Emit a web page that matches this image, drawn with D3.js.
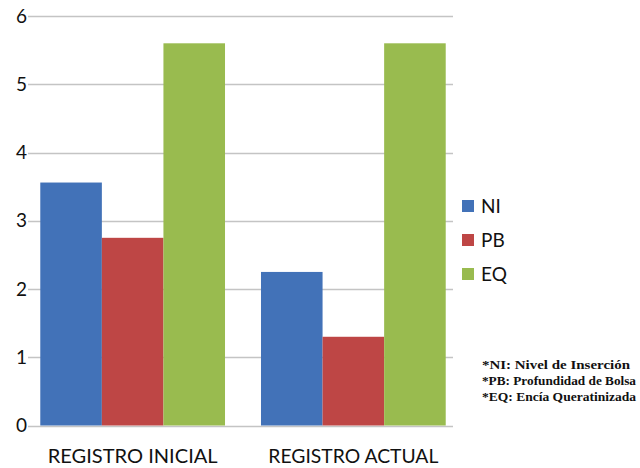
<!DOCTYPE html>
<html>
<head>
<meta charset="utf-8">
<script src="https://cdn.jsdelivr.net/npm/d3@7"></script>
<style>
  html, body { margin: 0; padding: 0; background: #fff; }
  svg { display: block; }
</style>
</head>
<body>
<svg id="chart" width="640" height="468"></svg>
<script>
// Categories and series
const categories = ["REGISTRO INICIAL", "REGISTRO ACTUAL"];
const seriesNames = ["NI", "PB", "EQ"];
const seriesColors = ["#4272B8", "#BE4645", "#99BB4F"];
const valuesNI = [3.56, 2.25];
const valuesPB = [2.75, 1.30];
const valuesEQ = [5.6, 5.6];
const yTicks = [0, 1, 2, 3, 4, 5, 6];
const footnotes = [
  "*NI: Nivel de Inserción",
  "*PB: Profundidad de Bolsa",
  "*EQ: Encía Queratinizada"
];

const seriesValues = [valuesNI, valuesPB, valuesEQ];
const rows = categories.map((c, i) => ({
  cat: c,
  vals: seriesNames.map((s, j) => ({ key: s, value: seriesValues[j][i], color: seriesColors[j] }))
}));

const svg = d3.select("#chart");
const plot = { left: 33, right: 453, top: 16, bottom: 425.5 };

const y = d3.scaleLinear().domain([0, 6]).range([plot.bottom, plot.top]);
const x0 = d3.scaleBand().domain(categories)
  .range([plot.left, plot.right])
  .paddingInner(0.163).paddingOuter(0.033);
const x1 = d3.scaleBand().domain(seriesNames).range([0, x0.bandwidth()]).padding(0);

const fontSans = "Lato, 'Open Sans', sans-serif";

// Horizontal gridlines
svg.append("g")
  .selectAll("line")
  .data(yTicks)
  .join("line")
  .attr("x1", plot.left - 5)
  .attr("x2", plot.right)
  .attr("y1", d => Math.round(y(d)) + 0.5)
  .attr("y2", d => Math.round(y(d)) + 0.5)
  .attr("stroke", "#c4c4c4")
  .attr("stroke-width", 1.5);

// Y axis tick labels
const yAxis = d3.axisLeft(y).tickValues(yTicks).tickSize(0).tickPadding(6).tickFormat(d3.format("d"));
const gy = svg.append("g").attr("transform", `translate(${plot.left},0)`).call(yAxis);
gy.select(".domain").remove();
gy.selectAll("text")
  .attr("font-family", fontSans)
  .attr("font-size", 19)
  .attr("fill", "#111");

// Bars
const groups = svg.append("g")
  .selectAll("g")
  .data(rows)
  .join("g")
  .attr("transform", d => `translate(${x0(d.cat)},0)`);

groups.selectAll("rect")
  .data(d => d.vals)
  .join("rect")
  .attr("x", d => x1(d.key))
  .attr("width", x1.bandwidth())
  .attr("y", d => y(d.value))
  .attr("height", d => y(0) - y(d.value))
  .attr("fill", d => d.color);

// Category labels
const xAxis = d3.axisBottom(x0).tickSize(0).tickPadding(23);
const gx = svg.append("g").attr("transform", `translate(0,${plot.bottom})`).call(xAxis);
gx.select(".domain").remove();
gx.selectAll("text")
  .attr("font-family", fontSans)
  .attr("font-size", 20)
  .attr("fill", "#111")
  .attr("textLength", 170)
  .attr("lengthAdjust", "spacingAndGlyphs");

// Legend
const legend = svg.append("g").attr("transform", "translate(462,200)");
const li = legend.selectAll("g")
  .data(seriesNames)
  .join("g")
  .attr("transform", (d, i) => `translate(0,${i * 34})`);
li.append("rect")
  .attr("width", 12).attr("height", 12)
  .attr("fill", (d, i) => seriesColors[i]);
li.append("text")
  .attr("x", 19).attr("y", 6)
  .attr("dy", "0.36em")
  .attr("font-family", fontSans)
  .attr("font-size", 19)
  .attr("fill", "#111")
  .text(d => d);

// Abbreviation notes
const noteWidths = [148, 154, 154];
svg.append("g")
  .selectAll("text")
  .data(footnotes)
  .join("text")
  .attr("x", 482)
  .attr("y", (d, i) => 369 + i * 16)
  .attr("font-family", "'Liberation Serif', 'Times New Roman', serif")
  .attr("font-weight", "bold")
  .attr("font-size", 12.5)
  .attr("fill", "#111")
  .attr("textLength", (d, i) => noteWidths[i])
  .attr("lengthAdjust", "spacingAndGlyphs")
  .text(d => d);
</script>
</body>
</html>
